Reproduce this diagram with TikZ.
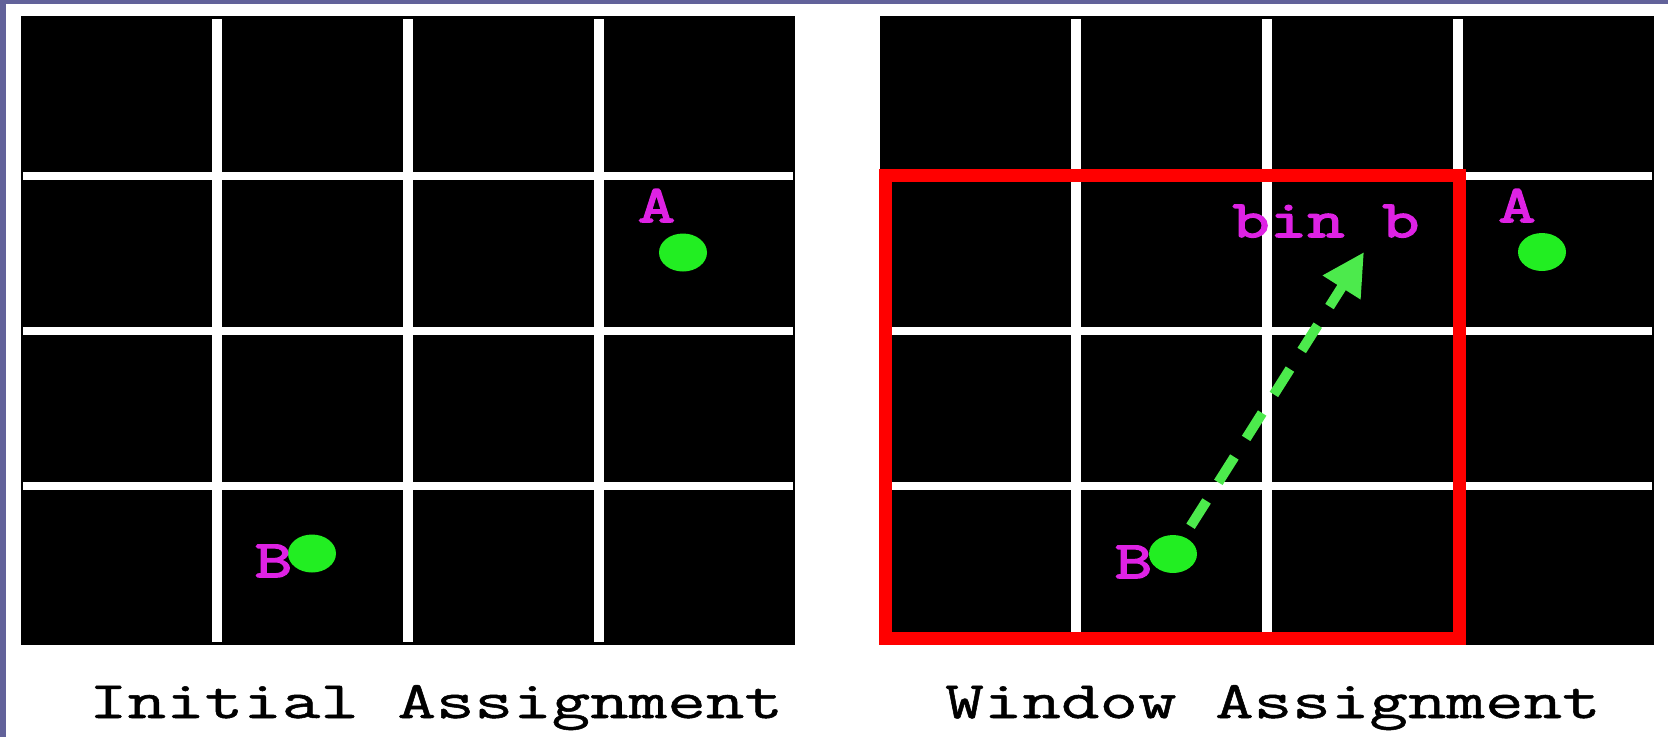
\documentclass[tikz,border=0pt]{standalone}
\usepackage{fontspec}
\newfontfamily\capfont[FakeStretch=1.42,FakeBold=1]{Latin Modern Mono}
\newfontfamily\lblfont[FakeStretch=1.38,FakeBold=3]{Latin Modern Mono}
\usetikzlibrary{shapes,arrows.meta,positioning}
\definecolor{plSlate}{HTML}{62629A}
\definecolor{plRed}{HTML}{FF0000}
\definecolor{plMagenta}{HTML}{DE22E4}
\definecolor{plGreen}{HTML}{22EE22}
\definecolor{plArrowGreen}{HTML}{4CEA4C}
\tikzset{
  gridv/.style={draw=white, line width=0.1cm},
  gridh/.style={draw=white, line width=0.08cm},
  winbox/.style={draw=plRed, line width=0.13cm},
  obj/.style={ellipse, fill=plGreen, inner sep=0pt, minimum width=0.48cm, minimum height=0.38cm},
  objlbl/.style={anchor=base, inner sep=0pt, text=plMagenta, font=\fontsize{15}{15}\lblfont},
  panelcap/.style={anchor=base, inner sep=0pt, font=\fontsize{15}{15}\capfont},
  movearr/.style={-{Triangle[length=0.42cm,width=0.42cm]}, draw=plArrowGreen, line width=0.1cm, dash pattern=on 0.3cm off 0.22cm, shorten <=0.12cm},
}
\begin{document}
\begin{tikzpicture}[x=0.1cm,y=-0.1cm]
    % page
    \fill[white] (0,0) rectangle (166.8,73.7);
    \fill[plSlate] (0,0) rectangle (166.8,0.4);
    \fill[plSlate] (0,0) rectangle (0.6,73.7);
    % panels and bins
    \foreach \ox in {2.1,88.0} {
        \fill[black] (\ox,1.6) rectangle ++(77.35,62.9);
        \foreach \dx in {19.6,38.7,57.8}
            \draw[gridv] (\ox+\dx,1.9) -- (\ox+\dx,64.2);
        \foreach \y in {17.6,33.05,48.6}
            \draw[gridh] (\ox+0.2,\y) -- (\ox+77.15,\y);
    }
    % window
    \draw[winbox] (88.55,17.55) rectangle (145.9,63.85);
    % cells
    \node[obj] (Ainit) at (68.3,25.25) {};
    \node[obj] (Binit) at (31.2,55.35) {};
    \node[obj] (Awin) at (154.2,25.2) {};
    \node[obj] (Bwin) at (117.3,55.4) {};
    \node[objlbl] (AinitL) at (65.65,22.2) {A};
    \node[objlbl] (BinitL) at (27.35,57.7) {B};
    \node[objlbl] (AwinL) at (151.7,22.2) {A};
    \node[objlbl] (BwinL) at (113.35,57.8) {B};
    \node[objlbl] (binL) at (132.6,23.7) {bin b};
    % move
    \coordinate (bintip) at (136.4,25.2);
    \draw[movearr] (Bwin) -- (bintip);
    \node[panelcap] (capInit) at (43.6,71.8) {Initial Assignment};
    \node[panelcap] (capWin) at (127.3,71.8) {Window Assignment};
\end{tikzpicture}
\end{document}
